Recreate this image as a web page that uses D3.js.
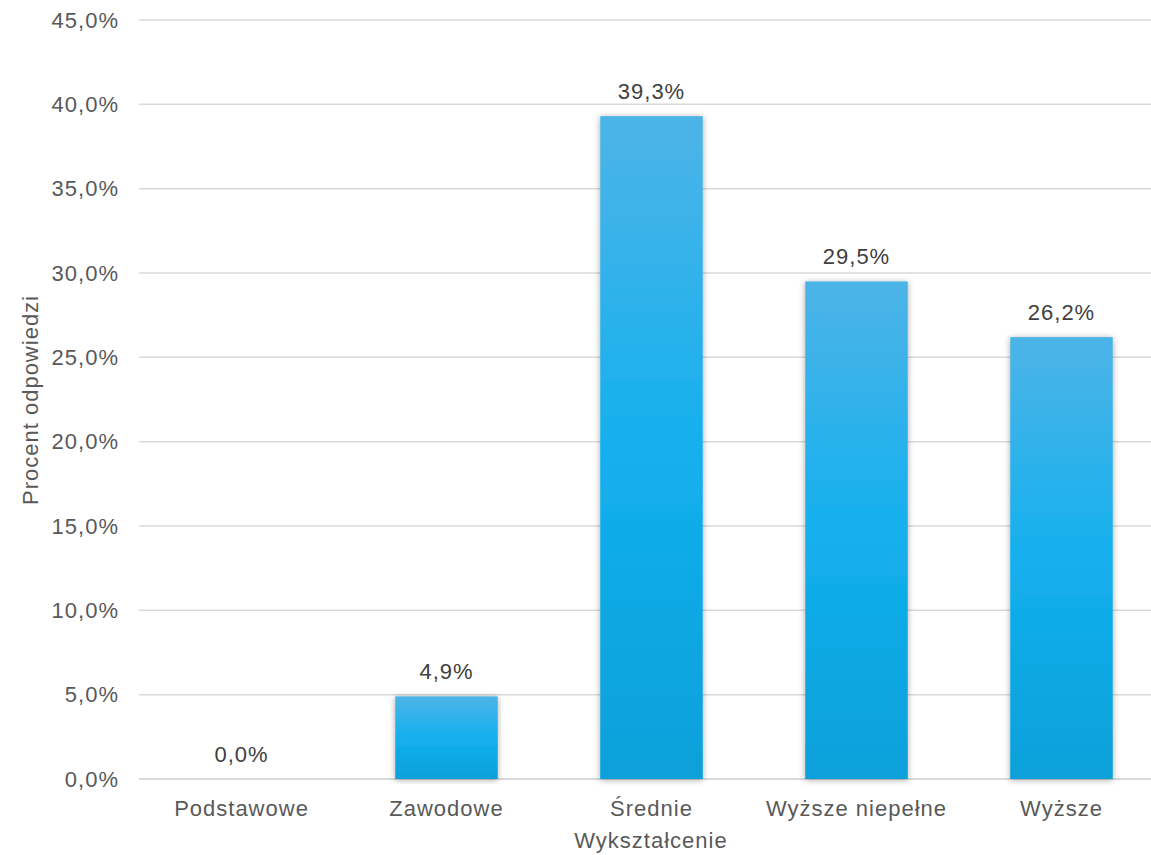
<!DOCTYPE html>
<html>
<head>
<meta charset="utf-8">
<script src="https://cdn.jsdelivr.net/npm/d3@7"></script>
<style>
  html, body { margin: 0; padding: 0; background: #fff; }
  svg { display: block; }
</style>
</head>
<body>
<svg width="1151" height="855"></svg>
<script>
const categories = ['Podstawowe', 'Zawodowe', 'Średnie', 'Wyższe niepełne', 'Wyższe'];
const values = [0.0, 4.9, 39.3, 29.5, 26.2];
const yTicks = [0, 5, 10, 15, 20, 25, 30, 35, 40, 45];

const svg = d3.select('svg');
const font = '"Liberation Sans", Arial, sans-serif';
const fmt = v => d3.format('.1f')(v).replace('.', ',') + '%';

const x = d3.scaleBand()
    .domain(categories)
    .range([139, 1164])
    .paddingInner(0.5)
    .paddingOuter(0.25);

const y = d3.scaleLinear()
    .domain([0, 45])
    .range([779, 20]);

const defs = svg.append('defs');
const grad = defs.append('linearGradient')
    .attr('id', 'barGrad')
    .attr('x1', 0).attr('y1', 0).attr('x2', 0).attr('y2', 1);
grad.append('stop').attr('offset', '0%').attr('stop-color', '#4db4e7');
grad.append('stop').attr('offset', '50%').attr('stop-color', '#14b0ee');
grad.append('stop').attr('offset', '100%').attr('stop-color', '#07a0da');

const shadow = defs.append('filter')
    .attr('id', 'shadow')
    .attr('x', '-20%').attr('y', '-5%')
    .attr('width', '140%').attr('height', '110%');
shadow.append('feDropShadow')
    .attr('dx', 0).attr('dy', 1)
    .attr('stdDeviation', 3)
    .attr('flood-color', '#000')
    .attr('flood-opacity', 0.35);

// gridlines
svg.append('g')
    .selectAll('line')
    .data(yTicks)
    .join('line')
    .attr('x1', 139).attr('x2', 1151)
    .attr('y1', d => y(d)).attr('y2', d => y(d))
    .attr('stroke', '#d9d9d9')
    .attr('stroke-width', d => d === 0 ? 2 : 1.5);

// y tick labels
svg.append('g')
    .selectAll('text')
    .data(yTicks)
    .join('text')
    .attr('x', 119)
    .attr('y', d => y(d))
    .attr('dy', '0.35em')
    .attr('text-anchor', 'end')
    .style('font-family', font)
    .style('font-size', '22px')
    .style('letter-spacing', '1px')
    .style('fill', '#595959')
    .text(d => fmt(d));

// bars
svg.append('g')
    .selectAll('rect')
    .data(values)
    .join('rect')
    .attr('x', (d, i) => x(categories[i]))
    .attr('width', x.bandwidth())
    .attr('y', d => y(d))
    .attr('height', d => y(0) - y(d))
    .attr('fill', 'url(#barGrad)')
    .attr('filter', 'url(#shadow)');

// data labels
svg.append('g')
    .selectAll('text')
    .data(values)
    .join('text')
    .attr('x', (d, i) => x(categories[i]) + x.bandwidth() / 2)
    .attr('y', d => y(d) - 17)
    .attr('text-anchor', 'middle')
    .style('font-family', font)
    .style('font-size', '22px')
    .style('letter-spacing', '1px')
    .style('fill', '#404040')
    .text(d => fmt(d));

// category labels
svg.append('g')
    .selectAll('text')
    .data(categories)
    .join('text')
    .attr('x', d => x(d) + x.bandwidth() / 2)
    .attr('y', 816)
    .attr('text-anchor', 'middle')
    .style('font-family', font)
    .style('font-size', '22px')
    .style('letter-spacing', '1px')
    .style('fill', '#595959')
    .text(d => d);

// axis titles
svg.append('text')
    .attr('x', 651)
    .attr('y', 848)
    .attr('text-anchor', 'middle')
    .style('font-family', font)
    .style('font-size', '22px')
    .style('letter-spacing', '1px')
    .style('fill', '#595959')
    .text('Wykształcenie');

svg.append('text')
    .attr('transform', 'translate(38, 400) rotate(-90)')
    .attr('text-anchor', 'middle')
    .style('font-family', font)
    .style('font-size', '22px')
    .style('letter-spacing', '1px')
    .style('fill', '#595959')
    .text('Procent odpowiedzi');
</script>
</body>
</html>
